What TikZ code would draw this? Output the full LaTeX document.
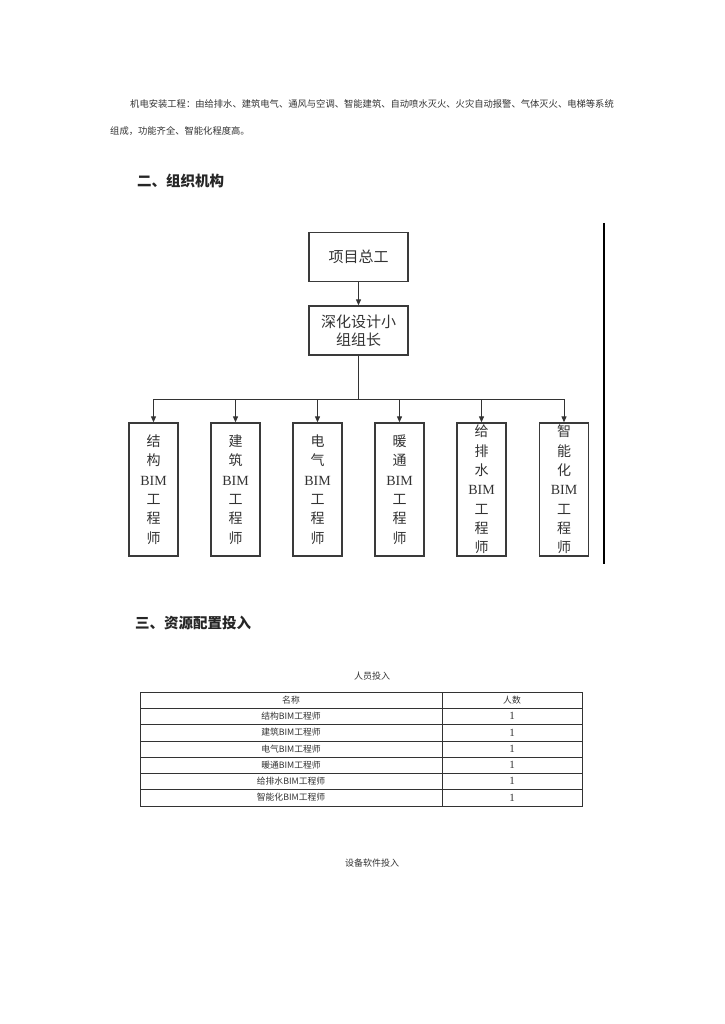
\documentclass[tikz,border=0pt]{standalone}
\usepackage{fontspec}
\newfontfamily\cjk{Noto Sans CJK SC}
\setmainfont{Liberation Serif}
\usetikzlibrary{arrows.meta}
\definecolor{txt}{HTML}{333333}
\definecolor{boxline}{HTML}{3A3A3A}
\newcommand{\bimtxt}{{\rmfamily\fontsize{14}{19.3}\selectfont BIM}}
\begin{document}
\begin{tikzpicture}[x=1pt,y=-1pt,
  para/.style={anchor=west, inner sep=0pt, text=txt, font=\cjk\fontsize{9.3}{11}\selectfont},
  heading/.style={anchor=west, inner sep=0pt, text=black!85, font=\cjk\bfseries\fontsize{14.5}{16}\selectfont},
  caption/.style={inner sep=0pt, text=txt, font=\cjk\fontsize{9}{11}\selectfont},
  cell/.style={inner sep=0pt, text=txt, font=\cjk\fontsize{8.8}{10}\selectfont},
  num/.style={inner sep=0pt, text=txt, font=\fontsize{11}{12}\selectfont},
  box/.style={draw=boxline, line width=1.3pt, fill=white, inner sep=0pt, align=center, text=black!80},
  hbox/.style={box, minimum width=99pt, minimum height=49pt, font=\cjk\fontsize{15}{18}\selectfont},
  vbox/.style={box, minimum width=49pt, minimum height=133pt, font=\cjk\fontsize{14}{19.3}\selectfont},
  arr/.style={draw=black!80, line width=1pt, -{Triangle[length=6pt,width=5pt]}},
  tline/.style={draw=black!80, line width=0.8pt}
]
\useasboundingbox (0,0) rectangle (724,1024);
\fill[white] (0,0) rectangle (724,1024);

% paragraph
\node[para] (p1) at (130,104) {机电安装工程：由给排水、建筑电气、通风与空调、智能建筑、自动喷水灭火、火灾自动报警、气体灭火、电梯等系统};
\node[para] (p2) at (110,131) {组成，功能齐全、智能化程度高。};

% headings
\node[heading] (h2) at (137,181) {二、组织机构};
\node[heading] (h3) at (135,623) {三、资源配置投入};

% org chart
\node[hbox] (top) at (358.5,257) {项目总工};
\node[hbox] (lead) at (358.5,330.5) {深化设计小\\组组长};
\coordinate (bus) at (358.5,399);

\node[vbox] (b1) at (153.5,489.5) {结\\构\\\bimtxt\\工\\程\\师};
\node[vbox] (b2) at (235.5,489.5) {建\\筑\\\bimtxt\\工\\程\\师};
\node[vbox] (b3) at (317.5,489.5) {电\\气\\\bimtxt\\工\\程\\师};
\node[vbox] (b4) at (399.5,489.5) {暖\\通\\\bimtxt\\工\\程\\师};
\node[vbox] (b5) at (481.5,489.5) {给\\排\\水\\\bimtxt\\工\\程\\师};
\node[vbox] (b6) at (564,489.5) {智\\能\\化\\\bimtxt\\工\\程\\师};

\draw[arr] (top) -- (lead);
\draw[draw=black!80, line width=1pt] (lead.south) -- (bus);
\foreach \b in {b1,b2,b3,b4,b5,b6}{
  \draw[arr] (bus) -| (\b.north);
}
% right frame line of the chart image
\coordinate (fr1) at (604,223);
\coordinate (fr2) at (604,564);
\draw[black, line width=2pt] (fr1) -- (fr2);

% table
\node[caption] (cap1) at (372,676) {人员投入};
\draw[tline] (140,692) rectangle (582,806);
\draw[tline] (442,692) -- (442,806);
\foreach \y in {708,724,741,757,773,789}{
  \draw[tline] (140,\y) -- (582,\y);
}
\node[cell] (n0) at (291,700) {名称};
\node[cell] (c0) at (512,700) {人数};
\node[cell] (n1) at (291,716) {结构BIM工程师};
\node[num]  (c1) at (512,716) {1};
\node[cell] (n2) at (291,732.5) {建筑BIM工程师};
\node[num]  (c2) at (512,732.5) {1};
\node[cell] (n3) at (291,749) {电气BIM工程师};
\node[num]  (c3) at (512,749) {1};
\node[cell] (n4) at (291,765) {暖通BIM工程师};
\node[num]  (c4) at (512,765) {1};
\node[cell] (n5) at (291,781) {给排水BIM工程师};
\node[num]  (c5) at (512,781) {1};
\node[cell] (n6) at (291,797.5) {智能化BIM工程师};
\node[num]  (c6) at (512,797.5) {1};

\node[caption] (cap2) at (372,863) {设备软件投入};
\end{tikzpicture}
\end{document}
